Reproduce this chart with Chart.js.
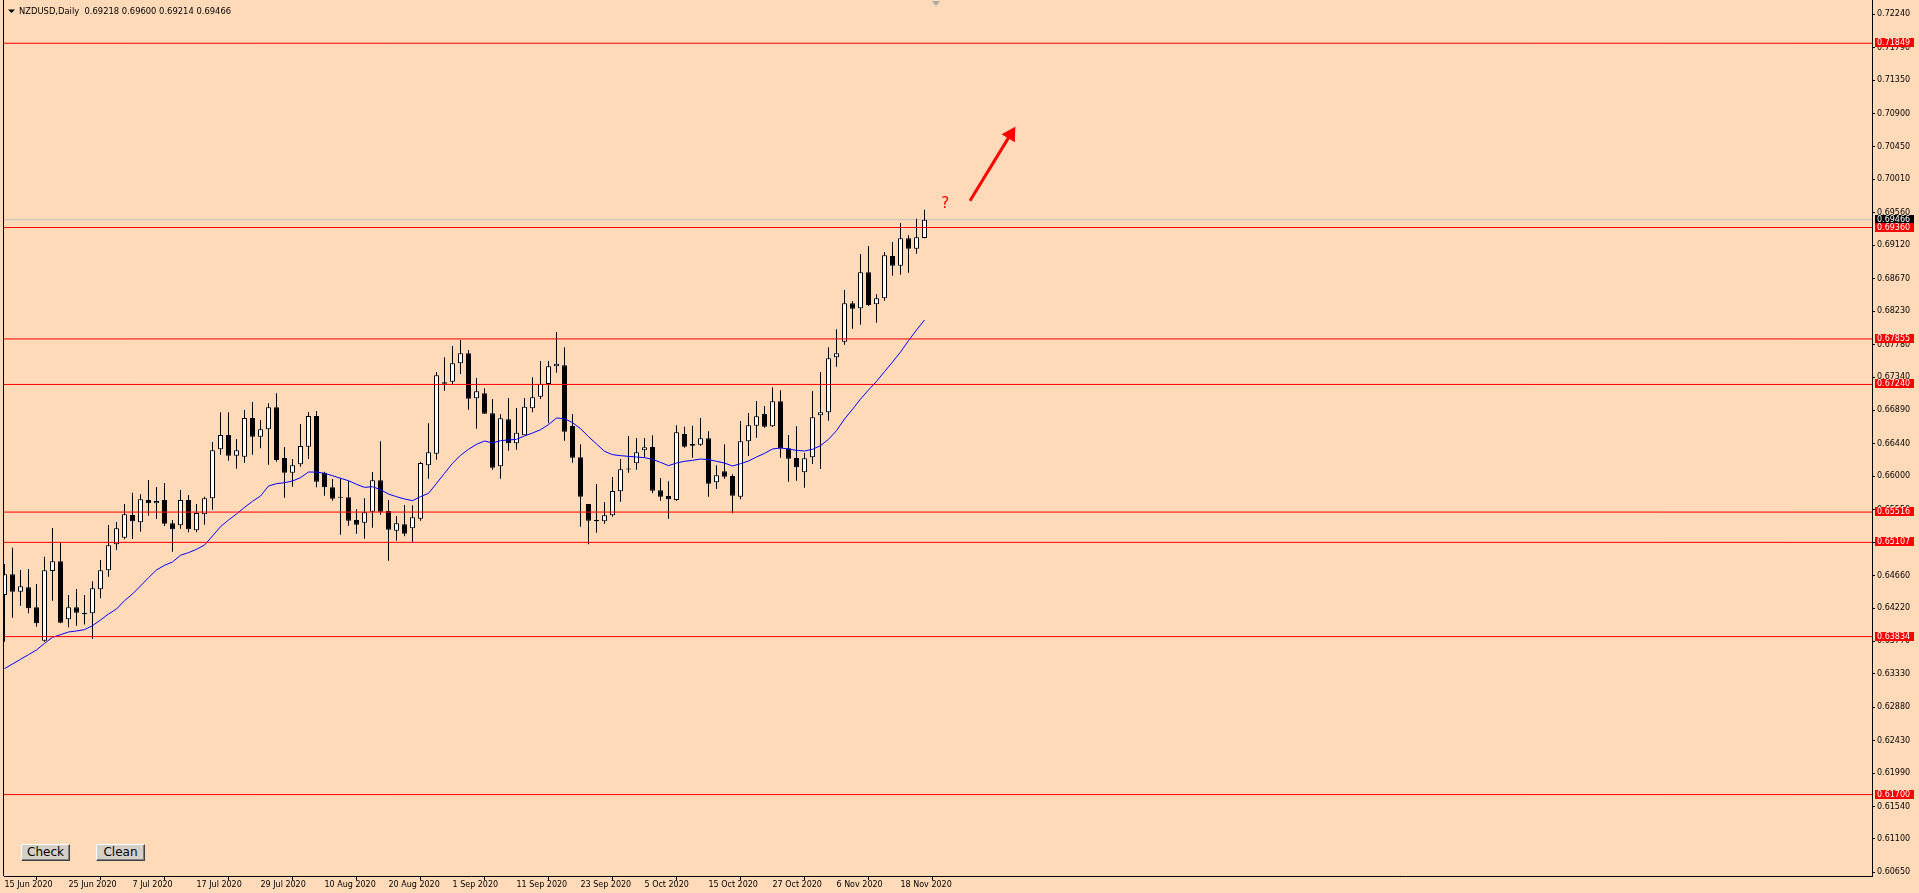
<!DOCTYPE html>
<html>
<head>
<meta charset="utf-8">
<title>NZDUSD Daily</title>
<script src="https://cdn.jsdelivr.net/npm/chart.js@4.4.0/dist/chart.umd.min.js"></script>
<style>
  html, body { margin: 0; padding: 0; background: #ffdab9; overflow: hidden; }
  #wrap { position: relative; width: 1919px; height: 893px; }
  canvas { display: block; }
  .btn {
    position: absolute; top: 844px; width: 49px; height: 17px;
    box-sizing: border-box; padding: 0; margin: 0;
    font: 12px "DejaVu Sans", sans-serif; line-height: 13px; color: #000;
    background: #d4d0c8;
    border: 1px solid; border-color: #ffffff #404040 #404040 #ffffff;
    box-shadow: inset -1px -1px #808080;
  }
</style>
</head>
<body>
<div id="wrap">
  <canvas id="chart" width="1919" height="893"></canvas>
  <button class="btn" style="left:21px">Check</button>
  <button class="btn" style="left:96px">Clean</button>
</div>
<script>
const symbol = 'NZDUSD';
const period = 'Daily';

// one label every 8 daily bars
const xTickBars = [0, 8, 16, 24, 32, 40, 48, 56, 64, 72, 80, 88, 96, 104, 112];
const xTickLabels = ['15 Jun 2020', '25 Jun 2020', '7 Jul 2020', '17 Jul 2020', '29 Jul 2020',
  '10 Aug 2020', '20 Aug 2020', '1 Sep 2020', '11 Sep 2020', '23 Sep 2020', '5 Oct 2020',
  '15 Oct 2020', '27 Oct 2020', '6 Nov 2020', '18 Nov 2020'];

const yTickLabels = ['0.72240', '0.71790', '0.71350', '0.70900', '0.70450', '0.70010', '0.69560',
  '0.69120', '0.68670', '0.68230', '0.67780', '0.67340', '0.66890', '0.66440', '0.66000',
  '0.65550', '0.65110', '0.64660', '0.64220', '0.63770', '0.63330', '0.62880', '0.62430',
  '0.61990', '0.61540', '0.61100', '0.60650'];

const open = [
  0.64396, 0.64675, 0.64441, 0.64500, 0.64229, 0.63779, 0.64720, 0.64851, 0.64067, 0.64229,
  0.64157, 0.64148, 0.64473, 0.64729, 0.65080, 0.65170, 0.65477, 0.65378, 0.65679, 0.65634,
  0.65679, 0.65364, 0.65337, 0.65679, 0.65270, 0.65486, 0.65702, 0.66364, 0.66557, 0.66278,
  0.66265, 0.66787, 0.66535, 0.66634, 0.66931, 0.66247, 0.66048, 0.66161, 0.66400, 0.66814,
  0.66048, 0.65850, 0.65715, 0.65715, 0.65409, 0.65373, 0.65522, 0.65945, 0.65531, 0.65265,
  0.65351, 0.65297, 0.65427, 0.66148, 0.66305, 0.67251, 0.67278, 0.67525, 0.67660, 0.67053,
  0.67120, 0.66850, 0.66134, 0.66769, 0.66445, 0.66553, 0.66918, 0.67075, 0.67246, 0.67485,
  0.67498, 0.66679, 0.66256, 0.65625, 0.65409, 0.65391, 0.65472, 0.65796, 0.66094, 0.66175,
  0.66350, 0.66395, 0.65810, 0.65733, 0.65679, 0.66571, 0.66436, 0.66427, 0.66512, 0.65918,
  0.66067, 0.66003, 0.65724, 0.66472, 0.66683, 0.66841, 0.66674, 0.67012, 0.66377, 0.66246,
  0.66053, 0.66255, 0.66823, 0.66863, 0.67606, 0.67818, 0.68336, 0.68268, 0.68754, 0.68322,
  0.68403, 0.68975, 0.68845, 0.69214, 0.69074, 0.69218];

const high = [
  0.64815, 0.65035, 0.64734, 0.64747, 0.64545, 0.64914, 0.65301, 0.65098, 0.64396, 0.64477,
  0.64396, 0.64581, 0.64869, 0.65342, 0.65382, 0.65625, 0.65778, 0.65756, 0.65949, 0.65855,
  0.65909, 0.65409, 0.65814, 0.65747, 0.65625, 0.65724, 0.66463, 0.66863, 0.66863, 0.66503,
  0.66895, 0.67003, 0.66760, 0.66985, 0.67120, 0.66395, 0.66233, 0.66706, 0.66868, 0.66881,
  0.66062, 0.65963, 0.65981, 0.65936, 0.65553, 0.65702, 0.66057, 0.66472, 0.65679, 0.65463,
  0.65612, 0.65607, 0.66197, 0.66715, 0.67408, 0.67606, 0.67760, 0.67841, 0.67705, 0.67327,
  0.67188, 0.67044, 0.66836, 0.67057, 0.66922, 0.67057, 0.67336, 0.67557, 0.67557, 0.67949,
  0.67742, 0.66841, 0.66431, 0.65625, 0.65895, 0.65652, 0.65990, 0.66233, 0.66544, 0.66517,
  0.66517, 0.66553, 0.65976, 0.65931, 0.66688, 0.66670, 0.66683, 0.66787, 0.66607, 0.66148,
  0.66431, 0.66026, 0.66746, 0.66854, 0.67016, 0.66949, 0.67201, 0.67161, 0.66557, 0.66674,
  0.66314, 0.67151, 0.67408, 0.67741, 0.67985, 0.68516, 0.68367, 0.69002, 0.69110, 0.68457,
  0.69029, 0.69164, 0.69421, 0.69254, 0.69479, 0.69600];

const low = [
  0.63766, 0.64090, 0.64252, 0.64148, 0.63968, 0.63766, 0.64319, 0.64013, 0.63959, 0.63982,
  0.63999, 0.63806, 0.64351, 0.64644, 0.65004, 0.65148, 0.65152, 0.65252, 0.65468, 0.65423,
  0.65328, 0.64981, 0.65292, 0.65243, 0.65243, 0.65346, 0.65549, 0.66292, 0.66211, 0.66103,
  0.66184, 0.66292, 0.66377, 0.66157, 0.66197, 0.65711, 0.65859, 0.66130, 0.66233, 0.65850,
  0.65738, 0.65670, 0.65211, 0.65333, 0.65224, 0.65157, 0.65306, 0.65481, 0.64860, 0.65130,
  0.65188, 0.65116, 0.65400, 0.65967, 0.66224, 0.67156, 0.67246, 0.67381, 0.66899, 0.66643,
  0.66845, 0.66089, 0.65967, 0.66346, 0.66359, 0.66553, 0.66863, 0.67044, 0.66715, 0.67399,
  0.66481, 0.66184, 0.65319, 0.65080, 0.65238, 0.65360, 0.65454, 0.65657, 0.66048, 0.66089,
  0.66256, 0.65769, 0.65670, 0.65427, 0.65670, 0.66386, 0.66251, 0.66413, 0.65724, 0.65828,
  0.65967, 0.65499, 0.65688, 0.66273, 0.66521, 0.66656, 0.66665, 0.66251, 0.65927, 0.65940,
  0.65846, 0.66165, 0.66098, 0.66751, 0.67480, 0.67777, 0.67994, 0.68048, 0.68300, 0.68075,
  0.68372, 0.68709, 0.68723, 0.68750, 0.69007, 0.69214];

const close = [
  0.64675, 0.64441, 0.64513, 0.64216, 0.64013, 0.64729, 0.64851, 0.64022, 0.64229, 0.64157,
  0.64135, 0.64486, 0.64729, 0.65067, 0.65297, 0.65486, 0.65391, 0.65688, 0.65634, 0.65666,
  0.65360, 0.65283, 0.65679, 0.65283, 0.65504, 0.65702, 0.66350, 0.66557, 0.66278, 0.66350,
  0.66787, 0.66535, 0.66634, 0.66931, 0.66220, 0.66048, 0.66148, 0.66409, 0.66814, 0.65927,
  0.65850, 0.65697, 0.65710, 0.65400, 0.65346, 0.65513, 0.65945, 0.65522, 0.65279, 0.65364,
  0.65224, 0.65445, 0.66179, 0.66323, 0.67363, 0.67269, 0.67525, 0.67660, 0.67048, 0.67147,
  0.66845, 0.66116, 0.66782, 0.66445, 0.66589, 0.66940, 0.67066, 0.67251, 0.67485, 0.67521,
  0.66602, 0.66251, 0.65724, 0.65400, 0.65391, 0.65472, 0.65801, 0.66094, 0.66090, 0.66323,
  0.66391, 0.65805, 0.65724, 0.65688, 0.66593, 0.66400, 0.66413, 0.66512, 0.65900, 0.66012,
  0.65994, 0.65738, 0.66472, 0.66688, 0.66809, 0.66670, 0.67012, 0.66377, 0.66237, 0.66120,
  0.66242, 0.66796, 0.66863, 0.67593, 0.67660, 0.68336, 0.68264, 0.68754, 0.68313, 0.68403,
  0.68984, 0.68845, 0.69214, 0.69074, 0.69227, 0.69466];

// blue moving average
const ma = [
  0.63401, 0.63464, 0.63527, 0.63590, 0.63653, 0.63743, 0.63824, 0.63860, 0.63896, 0.63910,
  0.63928, 0.63982, 0.64058, 0.64139, 0.64207, 0.64319, 0.64410, 0.64518, 0.64630, 0.64734,
  0.64797, 0.64842, 0.64932, 0.64968, 0.65013, 0.65071, 0.65193, 0.65319, 0.65409, 0.65490,
  0.65580, 0.65661, 0.65733, 0.65868, 0.65900, 0.65913, 0.65936, 0.65981, 0.66057, 0.66057,
  0.66039, 0.66008, 0.65972, 0.65940, 0.65891, 0.65850, 0.65859, 0.65819, 0.65760, 0.65724,
  0.65693, 0.65670, 0.65724, 0.65769, 0.65904, 0.66039, 0.66175, 0.66283, 0.66364, 0.66431,
  0.66476, 0.66449, 0.66481, 0.66490, 0.66499, 0.66544, 0.66584, 0.66629, 0.66697, 0.66787,
  0.66778, 0.66724, 0.66643, 0.66535, 0.66436, 0.66337, 0.66292, 0.66278, 0.66269, 0.66260,
  0.66251, 0.66229, 0.66188, 0.66143, 0.66179, 0.66202, 0.66215, 0.66233, 0.66224, 0.66202,
  0.66179, 0.66138, 0.66170, 0.66206, 0.66260, 0.66309, 0.66368, 0.66382, 0.66368, 0.66350,
  0.66341, 0.66364, 0.66413, 0.66499, 0.66616, 0.66773, 0.66904, 0.67043, 0.67165, 0.67282,
  0.67413, 0.67543, 0.67678, 0.67831, 0.67975, 0.68111];

// red horizontal levels
const levels = [0.71849, 0.69360, 0.67855, 0.67240, 0.65516, 0.65107, 0.63834, 0.61700];
const bid = 0.69466;

// drawn annotations, in (bar, price)
const arrowFrom = [120.69, 0.69722];
const arrowTo = [125.76, 0.70618];
const questionMark = [117.6, 0.69678];

const BG = '#ffdab9';
const X_MIN = -0.0625, X_MAX = 233.4375;
const Y_MIN = 0.606002, Y_MAX = 0.724332;
const FONT = '"DejaVu Sans"';

const bars = open.map((_, i) => i);
const wickData = bars.map(i => ({ x: i, y: [low[i], high[i]] }));
const bodyData = bars.map(i => ({ x: i, y: [open[i], close[i]] }));
const bodyFill = bars.map(i => close[i] >= open[i] ? '#ffffff' : '#000000');

const hline = (v) => [{ x: X_MIN, y: v }, { x: X_MAX, y: v }];

const datasets = [
  {
    type: 'line', data: [{ x: arrowFrom[0], y: arrowFrom[1] }, { x: arrowTo[0], y: arrowTo[1] }],
    borderColor: '#ff0000', borderWidth: 3, pointStyle: 'triangle',
    pointRadius: [0, 9], pointRotation: [0, 31.5], pointBackgroundColor: '#ff0000',
    pointBorderWidth: 0, order: 0
  },
  ...levels.map(v => ({
    type: 'line', data: hline(v), borderColor: '#ff0000', borderWidth: 1,
    pointRadius: 0, order: 1
  })),
  {
    type: 'line', data: bars.map(i => ({ x: i, y: ma[i] })),
    borderColor: '#0000ff', borderWidth: 1, pointRadius: 0, tension: 0, order: 2
  },
  {
    type: 'bar', data: bodyData, backgroundColor: bodyFill, borderColor: '#000000',
    borderWidth: 1, borderSkipped: false, barThickness: 5, grouped: false,
    inflateAmount: 0, minBarLength: 1, order: 3
  },
  {
    type: 'bar', data: wickData, backgroundColor: '#000000', borderWidth: 0,
    barThickness: 1, grouped: false, inflateAmount: 0, order: 4
  },
  {
    type: 'line', data: hline(bid), borderColor: '#c0c0c0', borderWidth: 1,
    pointRadius: 0, order: 5
  }
];

const axisLabel = (ctx, y, text, bg) => {
  ctx.fillStyle = bg;
  ctx.fillRect(1875, Math.round(y) - 5, 39, 9);
  ctx.fillStyle = '#ffffff';
  ctx.textAlign = 'left';
  ctx.textBaseline = 'middle';
  ctx.fillText(text, 1877, Math.round(y));
};

const overlay = {
  id: 'overlay',
  beforeDraw(chart) {
    const { ctx } = chart;
    ctx.save();
    ctx.fillStyle = BG;
    ctx.fillRect(0, 0, chart.width, chart.height);
    ctx.restore();
  },
  afterDraw(chart) {
    const { ctx, chartArea, scales: { x, y } } = chart;
    ctx.save();
    // left frame of the chart window
    ctx.strokeStyle = '#000000';
    ctx.lineWidth = 1;
    ctx.beginPath();
    ctx.moveTo(chartArea.left - 0.5, 0);
    ctx.lineTo(chartArea.left - 0.5, chartArea.bottom);
    ctx.stroke();

    // chart shift marker
    ctx.fillStyle = '#a8a8a8';
    ctx.beginPath();
    ctx.moveTo(932, 1); ctx.lineTo(940, 1); ctx.lineTo(936, 6);
    ctx.closePath();
    ctx.fill();

    // question mark next to the arrow
    ctx.fillStyle = '#ff0000';
    ctx.font = '15px ' + FONT;
    ctx.textAlign = 'center';
    ctx.textBaseline = 'middle';
    ctx.fillText('?', x.getPixelForValue(questionMark[0]), y.getPixelForValue(questionMark[1]));

    // price labels on the axis
    ctx.font = '8px ' + FONT;
    axisLabel(ctx, y.getPixelForValue(bid), bid.toFixed(5), '#000000');
    levels.forEach(v => axisLabel(ctx, y.getPixelForValue(v), v.toFixed(5), '#ff0000'));

    // title line
    const last = open.length - 1;
    const fmt = v => v.toFixed(5);
    ctx.fillStyle = '#000000';
    ctx.beginPath();
    ctx.moveTo(8, 9.5); ctx.lineTo(15, 9.5); ctx.lineTo(11.5, 13);
    ctx.closePath();
    ctx.fill();
    ctx.font = '8.4px ' + FONT;
    ctx.textAlign = 'left';
    ctx.textBaseline = 'alphabetic';
    ctx.fillText(`${symbol},${period}  ${fmt(open[last])} ${fmt(high[last])} ${fmt(low[last])} ${fmt(close[last])}`, 19, 13.5);
    ctx.restore();
  }
};

new Chart(document.getElementById('chart'), {
  type: 'bar',
  data: { datasets },
  plugins: [overlay],
  options: {
    responsive: false,
    animation: false,
    events: [],
    layout: { autoPadding: false, padding: { left: 4, right: 0, top: 0, bottom: 0 } },
    plugins: { legend: { display: false }, tooltip: { enabled: false } },
    scales: {
      x: {
        type: 'linear', min: X_MIN, max: X_MAX, offset: false, bounds: 'data',
        grid: { drawOnChartArea: false, drawTicks: true, tickLength: 4, color: '#000000' },
        border: { color: '#000000', width: 1 },
        ticks: {
          autoSkip: false, maxRotation: 0, minRotation: 0, align: 'start', padding: 0,
          color: '#000000', font: { family: 'DejaVu Sans', size: 8 },
          callback: (v, i) => xTickLabels[i]
        },
        afterBuildTicks: s => { s.ticks = xTickBars.map(v => ({ value: v })); },
        afterFit: s => { s.height = 17; s.paddingLeft = 0; s.paddingRight = 0; }
      },
      y: {
        type: 'linear', position: 'right', min: Y_MIN, max: Y_MAX, bounds: 'data',
        grid: { drawOnChartArea: false, drawTicks: true, tickLength: 3, color: '#000000' },
        border: { color: '#000000', width: 1 },
        ticks: {
          padding: 2, color: '#000000', font: { family: 'DejaVu Sans', size: 8 },
          callback: (v, i) => yTickLabels[i]
        },
        afterBuildTicks: s => { s.ticks = yTickLabels.map(t => ({ value: parseFloat(t) })); },
        afterFit: s => { s.width = 47; s.paddingTop = 0; s.paddingBottom = 0; }
      }
    }
  }
});
</script>
</body>
</html>
